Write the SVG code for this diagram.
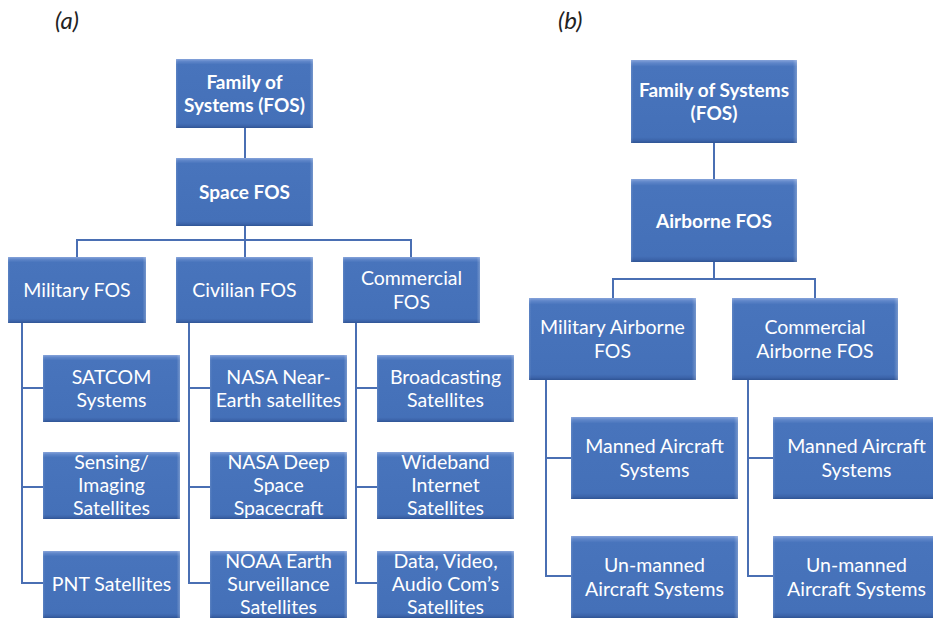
<svg xmlns="http://www.w3.org/2000/svg" width="933" height="618" viewBox="0 0 933 618">
  <defs>
    <linearGradient id="bevelV" x1="0" y1="0" x2="0" y2="1">
      <stop offset="0" stop-color="#86a3da"/>
      <stop offset="0.035" stop-color="#5f86c9"/>
      <stop offset="0.08" stop-color="#4874bc"/>
      <stop offset="0.93" stop-color="#4470b8"/>
      <stop offset="0.97" stop-color="#3c64aa"/>
      <stop offset="1" stop-color="#2f5494"/>
    </linearGradient>
    <linearGradient id="bevelH" x1="0" y1="0" x2="1" y2="0">
      <stop offset="0" stop-color="#ffffff" stop-opacity="0.12"/>
      <stop offset="0.015" stop-color="#ffffff" stop-opacity="0"/>
      <stop offset="0.975" stop-color="#ffffff" stop-opacity="0"/>
      <stop offset="1" stop-color="#ffffff" stop-opacity="0.25"/>
    </linearGradient>
  </defs>
  <style>
    .box { fill: url(#bevelV); }
    .edge { fill: url(#bevelH); }
    .lbl { font-family: Lato, "Liberation Sans", sans-serif; font-size: 19.5px; fill: #ffffff; text-anchor: middle; }
    .bold { font-weight: bold; font-size: 19px; }
    .wire { fill: none; stroke: #4a6fb3; stroke-width: 2; }
    .tag { font-family: Lato, "Liberation Sans", sans-serif; font-size: 24px; font-style: italic; fill: #222222; }
  </style>
  <rect width="933" height="618" fill="#ffffff"/>

  <text class="tag" x="55" y="29">(a)</text>
  <text class="tag" x="558" y="29">(b)</text>

  <!-- connectors -->
  <g id="connectors">
    <!-- panel a -->
    <path class="wire" d="M245 128 V158 M245 226 V240 M77 257 V240 H411 V257 M245 240 V257"/>
    <path class="wire" d="M22 323 V583 H43 M22 388 H43 M22 487 H43"/>
    <path class="wire" d="M189 323 V583 H210 M189 388 H210 M189 487 H210"/>
    <path class="wire" d="M356 323 V583 H377 M356 388 H377 M356 487 H377"/>
    <!-- panel b -->
    <path class="wire" d="M714 143 V179 M714 262 V279 M613 298 V279 H815 V298"/>
    <path class="wire" d="M546 380 V576 H571 M546 458 H571"/>
    <path class="wire" d="M748 380 V576 H773 M748 458 H773"/>
  </g>

  <!-- panel a nodes -->
  <g id="a-fos">
    <rect class="box" x="176" y="59" width="137" height="69"/><rect class="edge" x="176" y="59" width="137" height="69"/>
    <text class="lbl bold"><tspan x="244.5" y="88.5">Family of</tspan><tspan x="244.5" y="112">Systems (FOS)</tspan></text>
  </g>
  <g id="a-space">
    <rect class="box" x="176" y="158" width="137" height="68"/><rect class="edge" x="176" y="158" width="137" height="68"/>
    <text class="lbl bold" x="244.5" y="199">Space FOS</text>
  </g>
  <g id="a-military">
    <rect class="box" x="8" y="257" width="138" height="66"/><rect class="edge" x="8" y="257" width="138" height="66"/>
    <text class="lbl" x="77" y="297">Military FOS</text>
  </g>
  <g id="a-civilian">
    <rect class="box" x="176" y="257" width="137" height="66"/><rect class="edge" x="176" y="257" width="137" height="66"/>
    <text class="lbl" x="244.5" y="297">Civilian FOS</text>
  </g>
  <g id="a-commercial">
    <rect class="box" x="343" y="257" width="137" height="66"/><rect class="edge" x="343" y="257" width="137" height="66"/>
    <text class="lbl"><tspan x="411.5" y="285">Commercial</tspan><tspan x="411.5" y="308.5">FOS</tspan></text>
  </g>

  <g id="a-satcom">
    <rect class="box" x="43" y="355" width="137" height="67"/><rect class="edge" x="43" y="355" width="137" height="67"/>
    <text class="lbl"><tspan x="111.5" y="383.5">SATCOM</tspan><tspan x="111.5" y="407">Systems</tspan></text>
  </g>
  <g id="a-sensing">
    <rect class="box" x="43" y="452" width="137" height="67"/><rect class="edge" x="43" y="452" width="137" height="67"/>
    <text class="lbl"><tspan x="111.5" y="469">Sensing/</tspan><tspan x="111.5" y="492">Imaging</tspan><tspan x="111.5" y="515">Satellites</tspan></text>
  </g>
  <g id="a-pnt">
    <rect class="box" x="43" y="551" width="137" height="67"/><rect class="edge" x="43" y="551" width="137" height="67"/>
    <text class="lbl" x="111.5" y="590.5">PNT Satellites</text>
  </g>

  <g id="a-nasa-near">
    <rect class="box" x="210" y="355" width="137" height="67"/><rect class="edge" x="210" y="355" width="137" height="67"/>
    <text class="lbl"><tspan x="278.5" y="383.5">NASA Near-</tspan><tspan x="278.5" y="407">Earth satellites</tspan></text>
  </g>
  <g id="a-nasa-deep">
    <rect class="box" x="210" y="452" width="137" height="67"/><rect class="edge" x="210" y="452" width="137" height="67"/>
    <text class="lbl"><tspan x="278.5" y="469">NASA Deep</tspan><tspan x="278.5" y="492">Space</tspan><tspan x="278.5" y="515">Spacecraft</tspan></text>
  </g>
  <g id="a-noaa">
    <rect class="box" x="210" y="551" width="137" height="67"/><rect class="edge" x="210" y="551" width="137" height="67"/>
    <text class="lbl"><tspan x="278.5" y="568">NOAA Earth</tspan><tspan x="278.5" y="591">Surveillance</tspan><tspan x="278.5" y="614">Satellites</tspan></text>
  </g>

  <g id="a-broadcasting">
    <rect class="box" x="377" y="355" width="137" height="67"/><rect class="edge" x="377" y="355" width="137" height="67"/>
    <text class="lbl"><tspan x="445.5" y="383.5">Broadcasting</tspan><tspan x="445.5" y="407">Satellites</tspan></text>
  </g>
  <g id="a-wideband">
    <rect class="box" x="377" y="452" width="137" height="67"/><rect class="edge" x="377" y="452" width="137" height="67"/>
    <text class="lbl"><tspan x="445.5" y="469">Wideband</tspan><tspan x="445.5" y="492">Internet</tspan><tspan x="445.5" y="515">Satellites</tspan></text>
  </g>
  <g id="a-data">
    <rect class="box" x="377" y="551" width="137" height="67"/><rect class="edge" x="377" y="551" width="137" height="67"/>
    <text class="lbl"><tspan x="445.5" y="568">Data, Video,</tspan><tspan x="445.5" y="591">Audio Com’s</tspan><tspan x="445.5" y="614">Satellites</tspan></text>
  </g>

  <!-- panel b nodes -->
  <g id="b-fos">
    <rect class="box" x="631" y="60" width="166" height="83"/><rect class="edge" x="631" y="60" width="166" height="83"/>
    <text class="lbl bold"><tspan x="714" y="96.5">Family of Systems</tspan><tspan x="714" y="120">(FOS)</tspan></text>
  </g>
  <g id="b-airborne">
    <rect class="box" x="631" y="179" width="166" height="83"/><rect class="edge" x="631" y="179" width="166" height="83"/>
    <text class="lbl bold" x="714" y="227.5">Airborne FOS</text>
  </g>
  <g id="b-military">
    <rect class="box" x="529" y="298" width="167" height="82"/><rect class="edge" x="529" y="298" width="167" height="82"/>
    <text class="lbl"><tspan x="612.5" y="334">Military Airborne</tspan><tspan x="612.5" y="357.5">FOS</tspan></text>
  </g>
  <g id="b-commercial">
    <rect class="box" x="732" y="298" width="166" height="82"/><rect class="edge" x="732" y="298" width="166" height="82"/>
    <text class="lbl"><tspan x="815" y="334">Commercial</tspan><tspan x="815" y="357.5">Airborne FOS</tspan></text>
  </g>
  <g id="b-mil-manned">
    <rect class="box" x="571" y="417" width="167" height="82"/><rect class="edge" x="571" y="417" width="167" height="82"/>
    <text class="lbl"><tspan x="654.5" y="453">Manned Aircraft</tspan><tspan x="654.5" y="476.5">Systems</tspan></text>
  </g>
  <g id="b-mil-unmanned">
    <rect class="box" x="571" y="536" width="167" height="82"/><rect class="edge" x="571" y="536" width="167" height="82"/>
    <text class="lbl"><tspan x="654.5" y="572">Un-manned</tspan><tspan x="654.5" y="595.5">Aircraft Systems</tspan></text>
  </g>
  <g id="b-com-manned">
    <rect class="box" x="773" y="417" width="167" height="82"/><rect class="edge" x="773" y="417" width="167" height="82"/>
    <text class="lbl"><tspan x="856.5" y="453">Manned Aircraft</tspan><tspan x="856.5" y="476.5">Systems</tspan></text>
  </g>
  <g id="b-com-unmanned">
    <rect class="box" x="773" y="536" width="167" height="82"/><rect class="edge" x="773" y="536" width="167" height="82"/>
    <text class="lbl"><tspan x="856.5" y="572">Un-manned</tspan><tspan x="856.5" y="595.5">Aircraft Systems</tspan></text>
  </g>
</svg>
